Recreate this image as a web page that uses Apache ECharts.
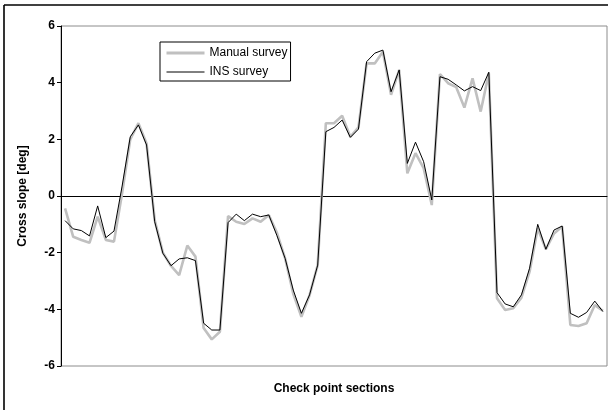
<!DOCTYPE html>
<html>
<head>
<meta charset="utf-8">
<title>Cross slope</title>
<script src="https://cdn.jsdelivr.net/npm/echarts@6/dist/echarts.min.js"></script>
<style>
	html, body{
		margin: 0;
		padding: 0;
		background: #fff;
	}
	#chart{
		width: 609px;
		height: 410px;
	}
</style>
</head>
<body>
<div id="chart"></div>
<script>
// check point sections (no labels shown on the axis)
var sections = [];
for (var s = 1; s <= 67; s++) sections.push(s);

// manual survey (grey, thick)
var manualSurvey = [
	-0.44, -1.44, -1.55, -1.65, -0.73, -1.55, -1.61, 0.1, 2.0, 2.57,
	1.85, -0.85, -2.0, -2.47, -2.79, -1.75, -2.14, -4.66, -5.06, -4.79,
	-0.71, -0.91, -0.99, -0.79, -0.91, -0.67, -1.3, -2.2, -3.45, -4.26,
	-3.5, -2.44, 2.57, 2.57, 2.83, 2.09, 2.42, 4.68, 4.68, 5.09,
	3.57, 4.45, 0.8, 1.51, 0.98, -0.32, 4.3, 3.98, 3.84, 3.12,
	4.15, 2.98, 4.33, -3.61, -4.02, -3.96, -3.59, -2.67, -1.14, -1.88,
	-1.32, -1.08, -4.55, -4.59, -4.49, -3.85, -4.05
];

// INS survey (black, thin)
var insSurvey = [
	-0.87, -1.16, -1.22, -1.41, -0.35, -1.47, -1.24, 0.35, 2.09, 2.51,
	1.8, -0.91, -2.02, -2.46, -2.22, -2.18, -2.28, -4.49, -4.73, -4.73,
	-0.94, -0.64, -0.87, -0.64, -0.73, -0.67, -1.4, -2.2, -3.32, -4.14,
	-3.49, -2.44, 2.27, 2.42, 2.68, 2.07, 2.36, 4.74, 5.04, 5.15,
	3.68, 4.45, 1.15, 1.9, 1.21, -0.14, 4.21, 4.12, 3.92, 3.71,
	3.86, 3.72, 4.37, -3.41, -3.81, -3.91, -3.49, -2.55, -1.0, -1.88,
	-1.2, -1.06, -4.14, -4.28, -4.11, -3.71, -4.08
];

var yTicks = [-6, -4, -2, 0, 2, 4, 6];

var font = "'Liberation Sans', Arial, sans-serif";
var myChart = echarts.init(document.getElementById('chart'), null, {renderer: 'canvas'});

var option = {
	animation: false,
	backgroundColor: '#fff',
	textStyle: {fontFamily: font},
	grid: {
		left: 61,
		right: 2,
		top: 26,
		bottom: 44,
		show: true,
		borderColor: '#8c8c8c',
		borderWidth: 1,
		backgroundColor: 'transparent'
	},
	legend: {
		orient: 'vertical',
		left: 160,
		top: 42,
		padding: [5, 3, 3, 5],
		itemWidth: 38,
		itemHeight: 14,
		itemGap: 7,
		borderColor: '#000',
		borderWidth: 1,
		backgroundColor: '#fff',
		// hide the marker dot, keep only the line sample
		itemStyle: {opacity: 0},
		textStyle: {fontFamily: font, fontSize: 12, color: '#000'},
		data: [
			{name: 'Manual survey', lineStyle: {width: 3, color: '#c0c0c0'}},
			{name: 'INS survey', lineStyle: {width: 1, color: '#000'}}
		]
	},
	xAxis: {
		type: 'category',
		data: sections,
		boundaryGap: true,
		name: 'Check point sections',
		nameLocation: 'middle',
		nameGap: 17,
		nameTextStyle: {fontFamily: font, fontSize: 12, fontWeight: 'bold', color: '#000'},
		axisLine: {onZero: true, lineStyle: {color: '#000', width: 1}},
		axisTick: {show: false},
		axisLabel: {show: false},
		splitLine: {show: false}
	},
	yAxis: {
		type: 'value',
		min: yTicks[0],
		max: yTicks[yTicks.length - 1],
		interval: 2,
		name: 'Cross slope [deg]',
		nameLocation: 'middle',
		nameRotate: 90,
		nameGap: 32,
		nameTextStyle: {fontFamily: font, fontSize: 12, fontWeight: 'bold', color: '#000'},
		axisLine: {show: true, lineStyle: {color: '#000', width: 1}},
		axisTick: {show: true, inside: false, length: 4, lineStyle: {color: '#000'}},
		axisLabel: {fontFamily: font, fontSize: 12, fontWeight: 'bold', color: '#000', margin: 6},
		splitLine: {show: false}
	},
	series: [
		{
			name: 'Manual survey',
			type: 'line',
			data: manualSurvey,
			symbol: 'none',
			z: 2,
			lineStyle: {color: '#c0c0c0', width: 2.6},
			itemStyle: {color: '#c0c0c0'}
		},
		{
			name: 'INS survey',
			type: 'line',
			data: insSurvey,
			symbol: 'none',
			z: 3,
			lineStyle: {color: '#000', width: 1},
			itemStyle: {color: '#000'}
		}
	],
	// outer frame: only top and left edges are visible in the picture
	graphic: [
		{type: 'line', shape: {x1: 4, y1: 5, x2: 608, y2: 5}, style: {stroke: '#000', lineWidth: 1.6}},
		{type: 'line', shape: {x1: 4, y1: 5, x2: 4, y2: 410}, style: {stroke: '#000', lineWidth: 1.6}}
	]
};

myChart.setOption(option);
</script>
</body>
</html>
